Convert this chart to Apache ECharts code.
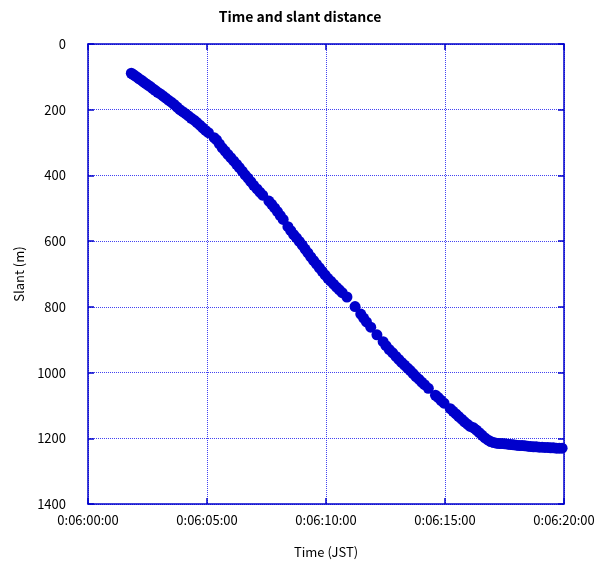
<!DOCTYPE html>
<html>
<head>
<meta charset="utf-8">
<script src="https://cdn.jsdelivr.net/npm/echarts@6/dist/echarts.min.js"></script>
<style>
  html, body { margin: 0; padding: 0; background: #fff; }
  #chart { width: 600px; height: 564px; }
</style>
</head>
<body>
<div id="chart"></div>
<script>
// elapsed time in minutes after 0:06:00:00
const times = [
  1.82, 1.90, 1.98, 2.06, 2.15, 2.24, 2.33, 2.42, 2.52, 2.62,
  2.72, 2.82, 2.93, 3.04, 3.15, 3.26, 3.38, 3.50, 3.62, 3.74,
  3.86, 3.98, 4.10, 4.22, 4.34, 4.46, 4.58, 4.70, 4.82, 4.94,
  5.06, 5.30, 5.40, 5.52, 5.64, 5.76, 5.88, 6.00, 6.12, 6.24,
  6.36, 6.48, 6.60, 6.72, 6.84, 6.96, 7.10, 7.22, 7.34, 7.60,
  7.72, 7.84, 7.96, 8.08, 8.20, 8.40, 8.52, 8.64, 8.76, 8.88,
  9.00, 9.12, 9.24, 9.36, 9.48, 9.60, 9.72, 9.84, 9.96, 10.08,
  10.20, 10.32, 10.44, 10.56, 10.68, 10.88, 11.22, 11.46, 11.58, 11.70,
  11.88, 12.14, 12.40, 12.52, 12.66, 12.80, 12.94, 13.06, 13.18, 13.30,
  13.42, 13.54, 13.66, 13.78, 13.90, 14.02, 14.14, 14.30, 14.60, 14.72,
  14.84, 14.96, 15.22, 15.34, 15.46, 15.58, 15.70, 15.82, 15.94, 16.06,
  16.20, 16.32, 16.44, 16.56, 16.68, 16.80, 16.92, 17.04, 17.16, 17.28,
  17.40, 17.52, 17.64, 17.76, 17.88, 18.00, 18.12, 18.24, 18.36, 18.48,
  18.60, 18.72, 18.84, 18.96, 19.08, 19.20, 19.32, 19.44, 19.56, 19.68,
  19.80, 19.92
];
// slant distance (m)
const slant = [
  89, 93, 97, 101, 106, 110, 115, 120, 125, 130,
  136, 141, 147, 152, 158, 164, 171, 177, 184, 192,
  200, 206, 212, 219, 226, 232, 239, 247, 255, 263,
  270, 285, 292, 304, 316, 326, 336, 346, 356, 366,
  376, 387, 398, 408, 419, 430, 441, 451, 460, 478,
  488, 499, 510, 522, 534, 556, 568, 580, 590, 601,
  612, 624, 636, 648, 659, 670, 681, 692, 703, 713,
  722, 731, 740, 748, 757, 770, 799, 822, 834, 846,
  862, 885, 906, 918, 930, 940, 951, 960, 969, 977,
  986, 994, 1003, 1012, 1020, 1029, 1037, 1048, 1069, 1076,
  1085, 1093, 1110, 1118, 1126, 1134, 1142, 1150, 1157, 1164,
  1168, 1175, 1183, 1191, 1199, 1205, 1210, 1213, 1215, 1216,
  1216, 1217, 1218, 1219, 1220, 1221, 1222, 1222, 1223, 1224,
  1225, 1226, 1226, 1227, 1227, 1228, 1228, 1229, 1229, 1230,
  1230, 1230
];

const blue = '#0000cc';
const font = '"Noto Sans CJK JP", sans-serif';

const timeLabel = v => '0:06:' + String(v).padStart(2, '0') + ':00';

const chart = echarts.init(document.getElementById('chart'));

const lineStyle = { color: blue, width: 1.5 };
const axisLine = { show: true, onZero: false, lineStyle };
const tick = { show: true, inside: true, length: 6, lineStyle: { color: blue, width: 1.5 } };
const grid = { show: true, lineStyle: { color: '#2222ee', type: [1, 1], width: 1, opacity: 0.85 } };

chart.setOption({
  animation: false,
  title: {
    text: 'Time and slant distance',
    left: 'center',
    top: 5,
    textStyle: { fontFamily: font, fontSize: 14, fontWeight: 'bold', color: '#000' }
  },
  grid: { left: 88, right: 36, top: 44, bottom: 60 },
  xAxis: [{
    type: 'value',
    min: 0, max: 20, interval: 5,
    name: 'Time (JST)',
    nameLocation: 'middle',
    nameGap: 42,
    nameTextStyle: { fontFamily: font, fontSize: 13, color: '#000' },
    axisLine,
    axisTick: tick,
    splitLine: grid,
    axisLabel: { formatter: timeLabel, fontFamily: font, fontSize: 13, color: '#000', margin: 10 }
  }, {
    type: 'value', position: 'top',
    min: 0, max: 20, interval: 5,
    axisLine,
    axisTick: tick,
    axisLabel: { show: false },
    splitLine: { show: false }
  }],
  yAxis: [{
    type: 'value',
    inverse: true,
    min: 0, max: 1400, interval: 200,
    name: 'Slant (m)',
    nameLocation: 'middle',
    nameGap: 62,
    nameTextStyle: { fontFamily: font, fontSize: 13, color: '#000' },
    axisLine,
    axisTick: tick,
    splitLine: grid,
    axisLabel: { formatter: v => String(v), fontFamily: font, fontSize: 13, color: '#000', margin: 22 }
  }, {
    type: 'value', position: 'right',
    inverse: true,
    min: 0, max: 1400, interval: 200,
    axisLine,
    axisTick: tick,
    axisLabel: { show: false },
    splitLine: { show: false }
  }],
  series: [{
    type: 'scatter',
    symbol: 'circle',
    symbolSize: 11,
    itemStyle: { color: blue, opacity: 1 },
    data: times.map((t, i) => [t, slant[i]])
  }]
});
</script>
</body>
</html>
